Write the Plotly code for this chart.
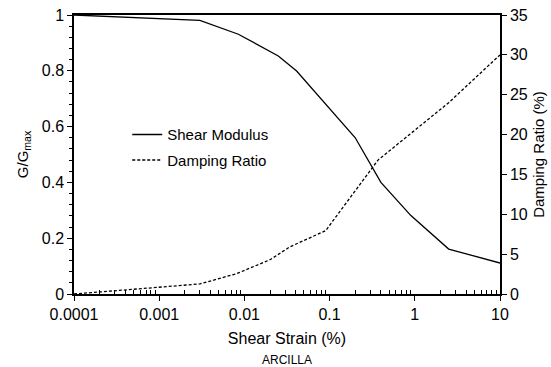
import plotly.graph_objects as go

# Data
strain_g = [0.0001, 0.003, 0.0085, 0.015, 0.025, 0.041, 0.2, 0.4, 0.9, 2.5, 10]
g_ratio = [1.0, 0.981, 0.931, 0.891, 0.853, 0.799, 0.56, 0.40, 0.281, 0.161, 0.111]

strain_d = [0.0001, 0.003, 0.0081, 0.02, 0.034, 0.09, 0.37, 2.5, 10]
damping = [0.0, 1.26, 2.55, 4.3, 5.9, 7.95, 16.8, 24.0, 30.0]

x_tickvals = [0.0001, 0.001, 0.01, 0.1, 1, 10]
x_ticktext = ["0.0001", "0.001", "0.01", "0.1", "1", "10"]
x_minor = [m * 10 ** e for e in range(-4, 1) for m in range(2, 10)]

FONT = "Liberation Sans, Arial, sans-serif"

fig = go.Figure()
fig.add_trace(go.Scatter(
    x=strain_g, y=g_ratio, mode="lines", name="Shear Modulus",
    legendgroup="g", line=dict(color="black", width=1.3), yaxis="y"))
fig.add_trace(go.Scatter(
    x=strain_d, y=damping, mode="lines", name="Damping Ratio",
    legendgroup="d", line=dict(color="black", width=1.3, dash="3px,2px"),
    yaxis="y2"))

fig.update_layout(
    width=551, height=367,
    margin=dict(l=74, r=51, t=15, b=73, autoexpand=False),
    paper_bgcolor="white", plot_bgcolor="white",
    font=dict(family=FONT, size=16, color="black"),
    showlegend=True,
    legend=dict(x=0.125, y=0.63, xanchor="left", yanchor="top",
                bgcolor="rgba(0,0,0,0)", font=dict(size=15, family=FONT),
                tracegroupgap=3, itemwidth=30),
    xaxis=dict(
        type="log", range=[-4, 1], automargin=False,
        tickmode="array", tickvals=x_tickvals, ticktext=x_ticktext,
        ticks="outside", ticklen=5, tickwidth=1, tickcolor="black",
        tickfont=dict(size=16),
        showline=True, linecolor="black", linewidth=1.5, mirror=True,
        showgrid=False, zeroline=False,
        minor=dict(tickmode="array", tickvals=x_minor, ticks="inside",
                   ticklen=4, tickcolor="black", showgrid=False),
        title=dict(text="Shear Strain (%)", standoff=11, font=dict(size=16)),
    ),
    yaxis=dict(
        range=[0, 1], dtick=0.2, tick0=0, automargin=False,
        ticks="outside", ticklen=5, tickwidth=1, tickcolor="black",
        tickfont=dict(size=16),
        showline=True, linecolor="black", linewidth=1.5,
        showgrid=False, zeroline=False,
        minor=dict(dtick=0.04, ticks="outside", ticklen=3, tickcolor="black",
                   showgrid=False),
        title=dict(text="G/G<sub>max</sub>", standoff=10, font=dict(size=15)),
    ),
    yaxis2=dict(
        range=[0, 35], dtick=5, tick0=0, overlaying="y", side="right",
        automargin=False,
        ticks="outside", ticklen=5, tickwidth=1, tickcolor="black",
        tickfont=dict(size=16),
        showline=True, linecolor="black", linewidth=1.5,
        showgrid=False, zeroline=False,
        title=dict(text="Damping Ratio (%)", standoff=7, font=dict(size=15)),
    ),
)

fig.add_annotation(
    text="ARCILLA", xref="paper", yref="paper", x=0.5, y=-0.205,
    xanchor="center", yanchor="top", showarrow=False,
    font=dict(size=12, family=FONT, color="black"))

fig.write_html("out.html")
